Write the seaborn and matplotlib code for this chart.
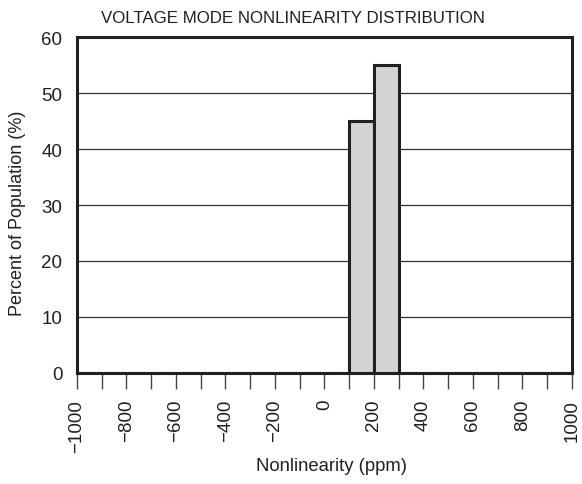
import numpy as np
import matplotlib
matplotlib.use("Agg")
import matplotlib.pyplot as plt
import seaborn as sns

bin_centers = [150, 250]
percent = [45, 55]
bin_edges = list(range(-1000, 1001, 100))
x_labels = [-1000, -800, -600, -400, -200, 0, 200, 400, 600, 800, 1000]
y_ticks = [0, 10, 20, 30, 40, 50, 60]

sns.set_style("white")
plt.rcParams['font.family'] = ['Liberation Sans', 'DejaVu Sans']

fig = plt.figure(figsize=(5.82, 4.85), dpi=100)
ax = fig.add_axes([0.1323, 0.2289, 0.8505, 0.6927])

sns.histplot(x=bin_centers, weights=percent, bins=bin_edges, ax=ax,
             color="#d1d3d4", edgecolor="#231f20", linewidth=2.2, alpha=1, zorder=3)

ax.set_xlim(-1000, 1000)
ax.set_ylim(0, 60)
ax.set_yticks(y_ticks)
ax.set_yticklabels([str(v) for v in y_ticks])
for y in y_ticks[1:-1]:
    ax.axhline(y, color="#333333", linewidth=0.9, zorder=1)

ax.set_xticks(bin_edges, minor=True)
ax.set_xticks(x_labels)
ax.set_xticklabels([str(v).replace("-", "\u2212") for v in x_labels], rotation=90, fontsize=13.5)
ax.tick_params(axis='x', which='both', direction='out', length=11.5, width=1, color="#444444",
               bottom=True, pad=7, labelcolor="#231f20")
ax.tick_params(axis='y', left=False, labelsize=13.5, pad=7, labelcolor="#231f20")

for s in ax.spines.values():
    s.set_color("#231f20")
    s.set_linewidth(2.2)
    s.set_zorder(4)

ax.set_title("VOLTAGE MODE NONLINEARITY DISTRIBUTION", fontsize=12.2, pad=11,
             color="#231f20", x=0.436)
ax.set_xlabel("Nonlinearity (ppm)", fontsize=13.3, labelpad=4, color="#231f20", x=0.515)
ax.set_ylabel("Percent of Population (%)", fontsize=13, labelpad=11, color="#231f20", y=0.479)

fig.savefig("out.png", dpi=100)
